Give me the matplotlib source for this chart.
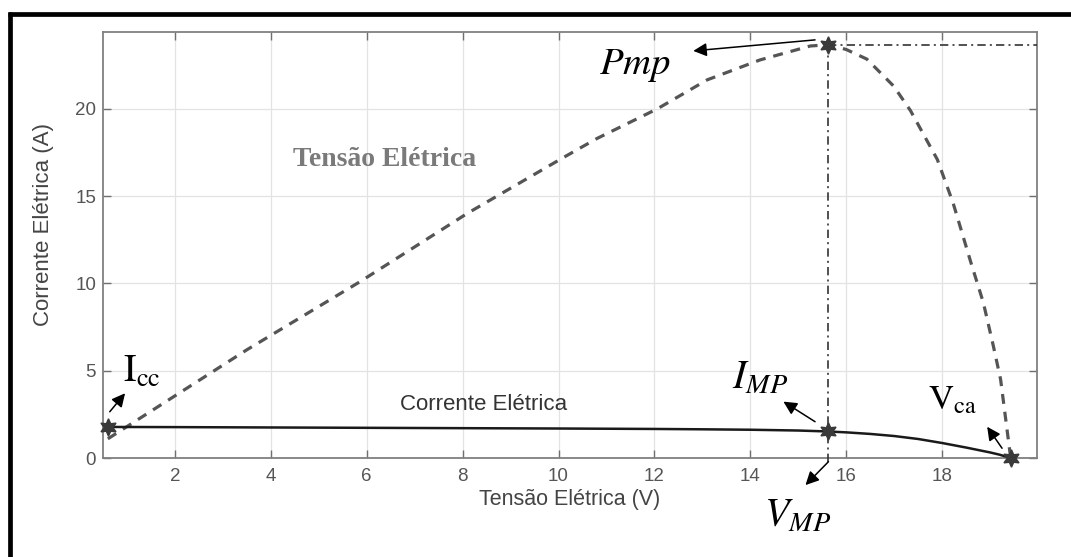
import matplotlib
matplotlib.use("Agg")
import matplotlib.pyplot as plt
from matplotlib.lines import Line2D

plt.rcParams['mathtext.fontset'] = 'stix'
plt.rcParams['font.family'] = ['Liberation Sans', 'DejaVu Sans']

# ---- data ----
current_v = [0.6, 2, 4, 6, 8, 10, 12, 13, 14, 15, 15.62, 16, 16.5, 17, 17.5, 18, 18.5, 19, 19.2, 19.43]
current_i = [1.78, 1.77, 1.75, 1.73, 1.71, 1.69, 1.665, 1.645, 1.62, 1.575, 1.52, 1.47, 1.38, 1.26, 1.09, 0.86, 0.6, 0.32, 0.19, 0.0]

power_v = [0.6, 3.5, 5.86, 8.09, 10.03, 10.8, 12.06, 13.1, 14.2, 15.25, 15.62, 16.0, 16.43, 16.99, 17.34, 17.9, 18.23, 18.6, 18.86, 19.07, 19.22, 19.43]
power_p = [1.1, 6.2, 10.1, 14.0, 17.1, 18.3, 20.0, 21.66, 22.8, 23.6, 23.67, 23.4, 22.85, 21.3, 19.9, 17.1, 14.6, 11.2, 8.9, 6.4, 4.5, 0.0]

mpp_v = 15.62
mpp_i = 1.52
mpp_p = 23.67
icc_v, icc_i = 0.6, 1.78
vca_v, vca_i = 19.43, 0.0

x_ticks = [2, 4, 6, 8, 10, 12, 14, 16, 18]
y_ticks = [0, 5, 10, 15, 20]

fig = plt.figure(figsize=(10.71, 5.57), dpi=100)
ax = fig.add_axes([0.0962, 0.1777, 0.8721, 0.7648])

ax.grid(True, color='#e3e3e3', lw=0.9)
ax.set_axisbelow(True)

ax.plot(power_v, power_p, color='#555555', lw=2.3, linestyle=(0, (3.1, 2.5)), zorder=3)
ax.plot(current_v, current_i, color='#1a1a1a', lw=1.8, zorder=4)

dd = (0, (5, 2.5, 1.2, 2.5))
ax.plot([mpp_v, mpp_v], [-0.2, mpp_p], color='#333333', lw=1.2, linestyle=dd, zorder=3, clip_on=False)
ax.plot([mpp_v, 19.98], [mpp_p, mpp_p], color='#333333', lw=1.2, linestyle=dd, zorder=3)

star = (6, 1, 0)
for (xv, yv) in [(icc_v, icc_i), (mpp_v, mpp_i), (vca_v, vca_i), (mpp_v, mpp_p)]:
    ax.plot([xv], [yv], marker=star, markersize=12.5, color='#3a3a3a', zorder=6, clip_on=False)

ax.set_xlim(0.5, 19.98)
ax.set_ylim(0, 24.4)
ax.set_xticks(x_ticks)
ax.set_yticks(y_ticks)
ax.tick_params(direction='in', length=6, width=1.0, colors='#707070', labelcolor='#555555',
               labelsize=13.5, top=True, right=True)
ax.tick_params(axis='x', pad=7)
ax.tick_params(axis='y', pad=5)
for s in ax.spines.values():
    s.set_color('#808080')
    s.set_linewidth(1.3)

ax.set_xlabel('Tensão Elétrica (V)', fontsize=15.5, color='#444444', labelpad=3)
ax.set_ylabel('Corrente Elétrica (A)', fontsize=16, color='#444444')
ax.yaxis.set_label_coords(-0.052, 0.548)

ax.text(6.38, 17.08, 'Tensão Elétrica', family='Liberation Serif', fontsize=20,
        color='#7a7a7a', ha='center', va='center', weight='bold')
ax.text(8.43, 3.09, 'Corrente Elétrica', fontsize=16, color='#333333', ha='center', va='center')

arrow = dict(arrowstyle='-|>', color='black', lw=1.1, mutation_scale=20, shrinkA=0, shrinkB=0)

ax.annotate('', xy=(12.81, 23.32), xytext=(15.35, 23.95), arrowprops=arrow, annotation_clip=False)
ax.text(11.6, 22.46, r'$Pmp$', fontsize=28, ha='center', va='center')

ax.annotate('', xy=(14.69, 3.23), xytext=(15.35, 2.08), arrowprops=arrow, annotation_clip=False)
ax.text(14.21, 4.58, r'$I_{MP}$', fontsize=29, ha='center', va='center')

ax.annotate('', xy=(15.15, -1.55), xytext=(15.63, -0.21), arrowprops=arrow, annotation_clip=False)
ax.text(14.98, -3.27, r'$V_{MP}$', fontsize=29, ha='center', va='center', clip_on=False)

ax.annotate('', xy=(0.96, 3.71), xytext=(0.64, 2.65), arrowprops=arrow, annotation_clip=False)
ax.text(1.31, 4.93, r'$\mathrm{I}_{\mathrm{cc}}$', fontsize=27, ha='center', va='center')

ax.annotate('', xy=(18.94, 1.79), xytext=(19.25, 0.56), arrowprops=arrow, annotation_clip=False)
ax.text(18.21, 3.32, r'$\mathrm{V}_{\mathrm{ca}}$', fontsize=25, ha='center', va='center')

# outer black frame (top and left edges visible)
W, H = 1071.0, 557.0
fig.add_artist(Line2D([8 / W, 1.0], [1 - 14 / H, 1 - 14 / H], color='black', lw=3.4,
                      transform=fig.transFigure, solid_capstyle='butt'))
fig.add_artist(Line2D([9.5 / W, 9.5 / W], [0, 1 - 12 / H], color='black', lw=3.4,
                      transform=fig.transFigure, solid_capstyle='butt'))

fig.savefig('out.png', dpi=100, facecolor='white')
